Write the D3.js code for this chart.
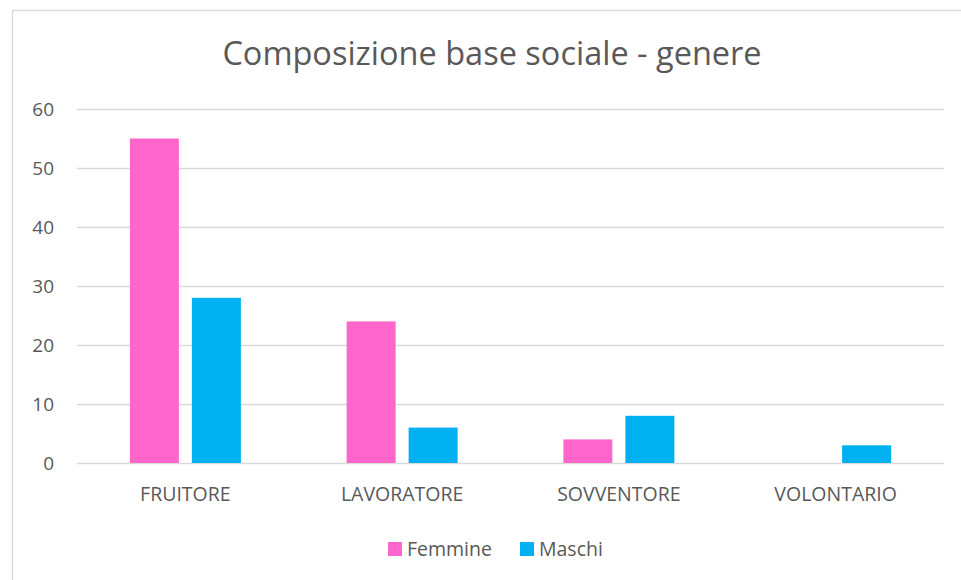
<!DOCTYPE html>
<html><head><meta charset="utf-8">
<script src="https://cdn.jsdelivr.net/npm/d3@7"></script>
<style>body{margin:0;background:#fff}svg{display:block}text{font-family:"Open Sans",sans-serif;fill:#595959}</style>
</head><body><svg id="c" width="961" height="580"></svg>
<script>
const categories = ["FRUITORE","LAVORATORE","SOVVENTORE","VOLONTARIO"];
const femmine = [55,24,4,0];
const maschi = [28,6,8,3];
const seriesNames = ["Femmine","Maschi"];
const colors = ["#FF66CC","#00B0F0"];
const yTicks = [0,10,20,30,40,50,60];
const title = "Composizione base sociale - genere";

const svg = d3.select("#c");
svg.append("rect").attr("x",12.5).attr("y",10.5).attr("width",960).attr("height",580)
  .attr("fill","#fff").attr("stroke","#d9d9d9").attr("stroke-width",1.3);

const x0 = d3.scaleBand().domain(categories).range([77,944]).paddingInner(0).paddingOuter(0);
const x1 = d3.scaleBand().domain(seriesNames).range([0,111]).paddingInner(0.21).paddingOuter(0);
const y = d3.scaleLinear().domain([0,60]).range([463,109]);

// gridlines
svg.append("g").selectAll("line").data(yTicks).join("line")
  .attr("x1",77).attr("x2",944).attr("y1",d=>y(d)+0.5).attr("y2",d=>y(d)+0.5)
  .attr("stroke","#d9d9d9").attr("stroke-width",1.3);

// y axis labels
const ya = svg.append("g").attr("transform","translate(54,0)")
  .call(d3.axisLeft(y).tickValues(yTicks).tickSize(0).tickPadding(0));
ya.select(".domain").remove();
ya.selectAll("text").style("font-size","19px").style("font-family","'Open Sans',sans-serif").attr("fill","#595959").attr("dy","0.36em");

// bars
const data = categories.map((c,i)=>({c, vals:[{s:"Femmine",v:femmine[i]},{s:"Maschi",v:maschi[i]}]}));
const groups = svg.append("g").selectAll("g").data(data).join("g")
  .attr("transform",d=>`translate(${x0(d.c)+(x0.bandwidth()-111)/2},0)`);
groups.selectAll("rect").data(d=>d.vals.filter(e=>e.v>0)).join("rect")
  .attr("x",d=>x1(d.s)).attr("width",x1.bandwidth())
  .attr("y",d=>y(d.v)).attr("height",d=>y(0)-y(d.v))
  .attr("fill",d=>colors[seriesNames.indexOf(d.s)]);

// x axis labels
const xa = svg.append("g").attr("transform","translate(0,494)")
  .call(d3.axisBottom(x0).tickSize(0).tickPadding(0));
xa.select(".domain").remove();
xa.selectAll("text").style("font-size","19.5px").style("font-family","'Open Sans',sans-serif").attr("fill","#595959").attr("dy","0.36em");

// title
svg.append("text").attr("x",492).attr("y",65).attr("text-anchor","middle")
  .style("font-size","32.5px").text(title);

// legend
const legX = [388,520];
const lg = svg.append("g").selectAll("g").data(seriesNames).join("g")
  .attr("transform",(d,i)=>`translate(${legX[i]},542)`);
lg.append("rect").attr("width",14).attr("height",14).attr("fill",(d,i)=>colors[i]);
lg.append("text").attr("x",19).attr("y",14).style("font-size","19.5px").text(d=>d);
</script></body></html>
